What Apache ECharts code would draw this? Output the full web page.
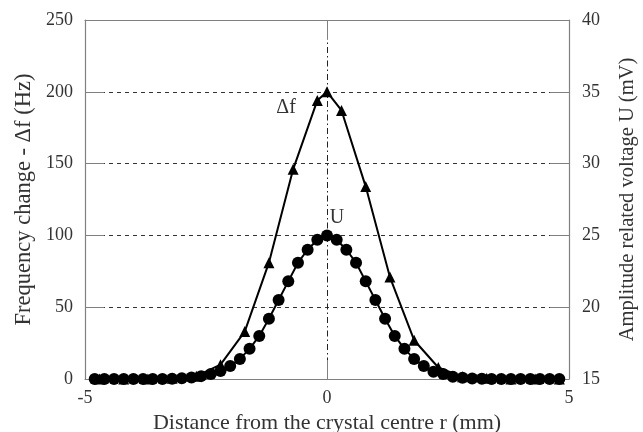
<!DOCTYPE html>
<html>
<head>
<meta charset="utf-8">
<script src="https://cdn.jsdelivr.net/npm/echarts@6/dist/echarts.min.js"></script>
<style>
  html, body { margin: 0; padding: 0; background: #fff; }
  #chart { width: 643px; height: 432px; }
</style>
</head>
<body>
<div id="chart"></div>
<script>
// Radial positions (mm) of the amplitude readings, 0.2 mm steps
const uRadius = [
  -4.8, -4.6, -4.4, -4.2, -4.0, -3.8, -3.6, -3.4, -3.2, -3.0,
  -2.8, -2.6, -2.4, -2.2, -2.0, -1.8, -1.6, -1.4, -1.2, -1.0,
  -0.8, -0.6, -0.4, -0.2, 0.0, 0.2, 0.4, 0.6, 0.8, 1.0,
  1.2, 1.4, 1.6, 1.8, 2.0, 2.2, 2.4, 2.6, 2.8, 3.0,
  3.2, 3.4, 3.6, 3.8, 4.0, 4.2, 4.4, 4.6, 4.8
];
// Amplitude related voltage U (mV)
const uVoltage = [
  15.0, 15.0, 15.0, 15.0, 15.0, 15.0, 15.0, 15.0, 15.02, 15.05,
  15.1, 15.2, 15.35, 15.55, 15.9, 16.4, 17.1, 18.0, 19.2, 20.5,
  21.8, 23.1, 24.0, 24.7, 25.0, 24.7, 24.0, 23.1, 21.8, 20.5,
  19.2, 18.0, 17.1, 16.4, 15.9, 15.5, 15.35, 15.15, 15.08, 15.04,
  15.02, 15.0, 15.0, 15.0, 15.0, 15.0, 15.0, 15.0, 15.0
];
// Radial positions (mm) of the frequency readings
const dfRadius = [
  -4.7, -4.2, -3.7, -3.2, -2.7, -2.2, -1.7, -1.2, -0.7, -0.2,
  0.0, 0.3, 0.8, 1.3, 1.8, 2.3, 2.8, 3.3, 3.8, 4.3, 4.8
];
// Frequency change Δf (Hz)
const dfValues = [
  0, 0, 0, 0.5, 2, 10, 33, 81, 146, 194,
  200, 187, 134, 71, 27, 8, 1.5, 0.5, 0, 0, 0
];
// Axis ticks
const xTicks = [-5, 0, 5];
const leftTicks = [0, 50, 100, 150, 200, 250];
const rightTicks = [15, 20, 25, 30, 35, 40];

const FONT = 'Liberation Serif';
const TEXT = '#333';
const FRAME = '#808080';

const dfData = dfRadius.map((r, i) => {
  const item = { value: [r, dfValues[i]] };
  if (r === -0.2) {
    item.label = {
      show: true, formatter: 'Δf', position: 'left',
      offset: [-11, 7], fontFamily: FONT, fontSize: 20, color: TEXT
    };
  }
  return item;
});
const uData = uRadius.map((r, i) => {
  const item = { value: [r, uVoltage[i]] };
  if (r === 0) {
    item.label = {
      show: true, formatter: 'U', position: 'top',
      offset: [10, 3], fontFamily: FONT, fontSize: 20, color: TEXT
    };
  }
  return item;
});

const tickStyle = { show: true, inside: true, length: 19, lineStyle: { color: FRAME, width: 1 } };
const axisLabelStyle = { fontFamily: FONT, fontSize: 18, color: TEXT };

const chart = echarts.init(document.getElementById('chart'), null, { renderer: 'canvas' });
chart.setOption({
  animation: false,
  backgroundColor: '#fff',
  grid: { left: 85, right: 74, top: 20, bottom: 53, containLabel: false, outerBoundsMode: 'none' },
  xAxis: [
    {
      type: 'value', position: 'bottom',
      min: xTicks[0], max: xTicks[xTicks.length - 1], interval: xTicks[1] - xTicks[0],
      axisLine: { show: true, onZero: false, lineStyle: { color: FRAME, width: 1.2 } },
      axisTick: tickStyle,
      axisLabel: Object.assign({ margin: 10 }, axisLabelStyle),
      splitLine: { show: true, lineStyle: { color: '#222', type: [6, 3, 1.5, 3], width: 1 } },
      name: 'Distance from the crystal centre r (mm)',
      nameLocation: 'middle', nameGap: 31,
      nameTextStyle: { fontFamily: FONT, fontSize: 22, color: TEXT }
    },
    {
      type: 'value', position: 'top',
      min: xTicks[0], max: xTicks[xTicks.length - 1], interval: xTicks[1] - xTicks[0],
      axisLine: { show: true, onZero: false, lineStyle: { color: FRAME, width: 1.2 } },
      axisTick: tickStyle,
      axisLabel: { show: false },
      splitLine: { show: false }
    }
  ],
  yAxis: [
    {
      type: 'value', position: 'left',
      min: leftTicks[0], max: leftTicks[leftTicks.length - 1], interval: leftTicks[1] - leftTicks[0],
      axisLine: { show: true, onZero: false, lineStyle: { color: FRAME, width: 1.2 } },
      axisTick: tickStyle,
      axisLabel: Object.assign({ margin: 12 }, axisLabelStyle),
      splitLine: { show: true, lineStyle: { color: '#333', type: [4, 4], width: 1 } },
      name: 'Frequency change - Δf (Hz)',
      nameLocation: 'middle', nameGap: 49, nameRotate: 90,
      nameTextStyle: { fontFamily: FONT, fontSize: 22.5, color: TEXT }
    },
    {
      type: 'value', position: 'right',
      min: rightTicks[0], max: rightTicks[rightTicks.length - 1], interval: rightTicks[1] - rightTicks[0],
      axisLine: { show: true, onZero: false, lineStyle: { color: FRAME, width: 1.2 } },
      axisTick: tickStyle,
      axisLabel: Object.assign({ margin: 13 }, axisLabelStyle),
      splitLine: { show: false },
      name: 'Amplitude related voltage U (mV)',
      nameLocation: 'middle', nameGap: 48, nameRotate: 90,
      nameTextStyle: { fontFamily: FONT, fontSize: 20.5, color: TEXT }
    }
  ],
  series: [
    {
      name: 'Δf', type: 'line', xAxisIndex: 0, yAxisIndex: 0,
      data: dfData,
      symbol: 'triangle', symbolSize: 11, showAllSymbol: true,
      lineStyle: { color: '#000', width: 2 },
      itemStyle: { color: '#000' },
      z: 2
    },
    {
      name: 'U', type: 'line', xAxisIndex: 0, yAxisIndex: 1,
      data: uData,
      symbol: 'circle', symbolSize: 12, showAllSymbol: true,
      lineStyle: { color: '#000', width: 2 },
      itemStyle: { color: '#000' },
      z: 3
    }
  ]
});
</script>
</body>
</html>
